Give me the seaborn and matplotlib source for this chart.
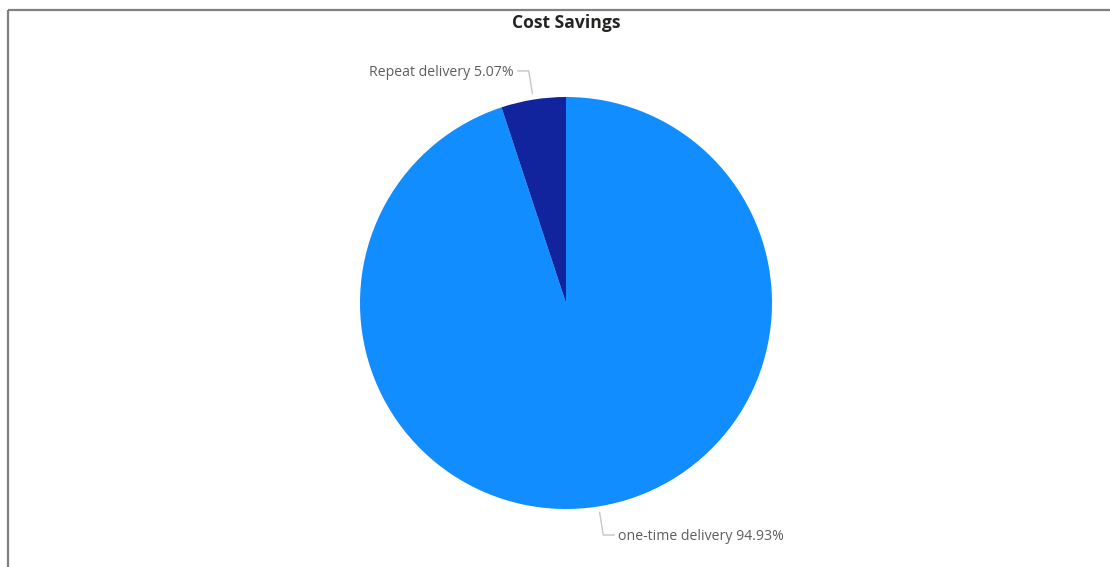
import numpy as np
import matplotlib
matplotlib.use("Agg")
import matplotlib.pyplot as plt
import seaborn as sns

categories = ["one-time delivery", "Repeat delivery"]
shares = [94.93, 5.07]
colors = ["#118DFF", "#12239E"]
title = "Cost Savings"

sns.set_theme(style="white")
plt.rcParams["font.family"] = ["Open Sans", "DejaVu Sans"]

W, H = 1110, 567
fig = plt.figure(figsize=(W / 100, H / 100), dpi=100)
ax = fig.add_axes([0, 0, 1, 1])

cx, cy, r = 566, H - 303, 206
wedges, _ = ax.pie(shares, colors=colors, startangle=90, counterclock=False,
                   center=(cx, cy), radius=r,
                   wedgeprops=dict(linewidth=0))
ax.set_xlim(0, W)
ax.set_ylim(0, H)
ax.set_aspect("equal")
ax.axis("off")

# leader lines and labels at each wedge's mid angle
line_col = "#C8C6C4"
text_col = "#605E5C"
for w, name, val in zip(wedges, categories, shares):
    ang = np.deg2rad((w.theta1 + w.theta2) / 2)
    ux, uy = np.cos(ang), np.sin(ang)
    x0, y0 = cx + (r + 6) * ux, cy + (r + 6) * uy
    x1, y1 = cx + (r + 29) * ux, cy + (r + 29) * uy
    side = 1 if ux > 0 else -1
    x2 = x1 + side * 11
    ax.plot([x0, x1, x2], [y0, y1, y1], color=line_col, lw=1.0,
            solid_joinstyle="miter")
    ax.text(x2 + side * 4, y1 - 1.5, f"{name} {val:.2f}%", color=text_col,
            fontsize=10.2, ha="left" if side > 0 else "right", va="center")

ax.text(cx, H - 23, title, ha="center", va="center", fontsize=12.6,
        fontweight="bold", color="#252423")

# frame edges along the top and left
border = "#808080"
ax.plot([8, W], [H - 10, H - 10], color=border, lw=1.6, solid_capstyle="butt")
ax.plot([8, 8], [H - 10, 0], color=border, lw=1.6, solid_capstyle="butt")

fig.savefig("out.png", dpi=100)
